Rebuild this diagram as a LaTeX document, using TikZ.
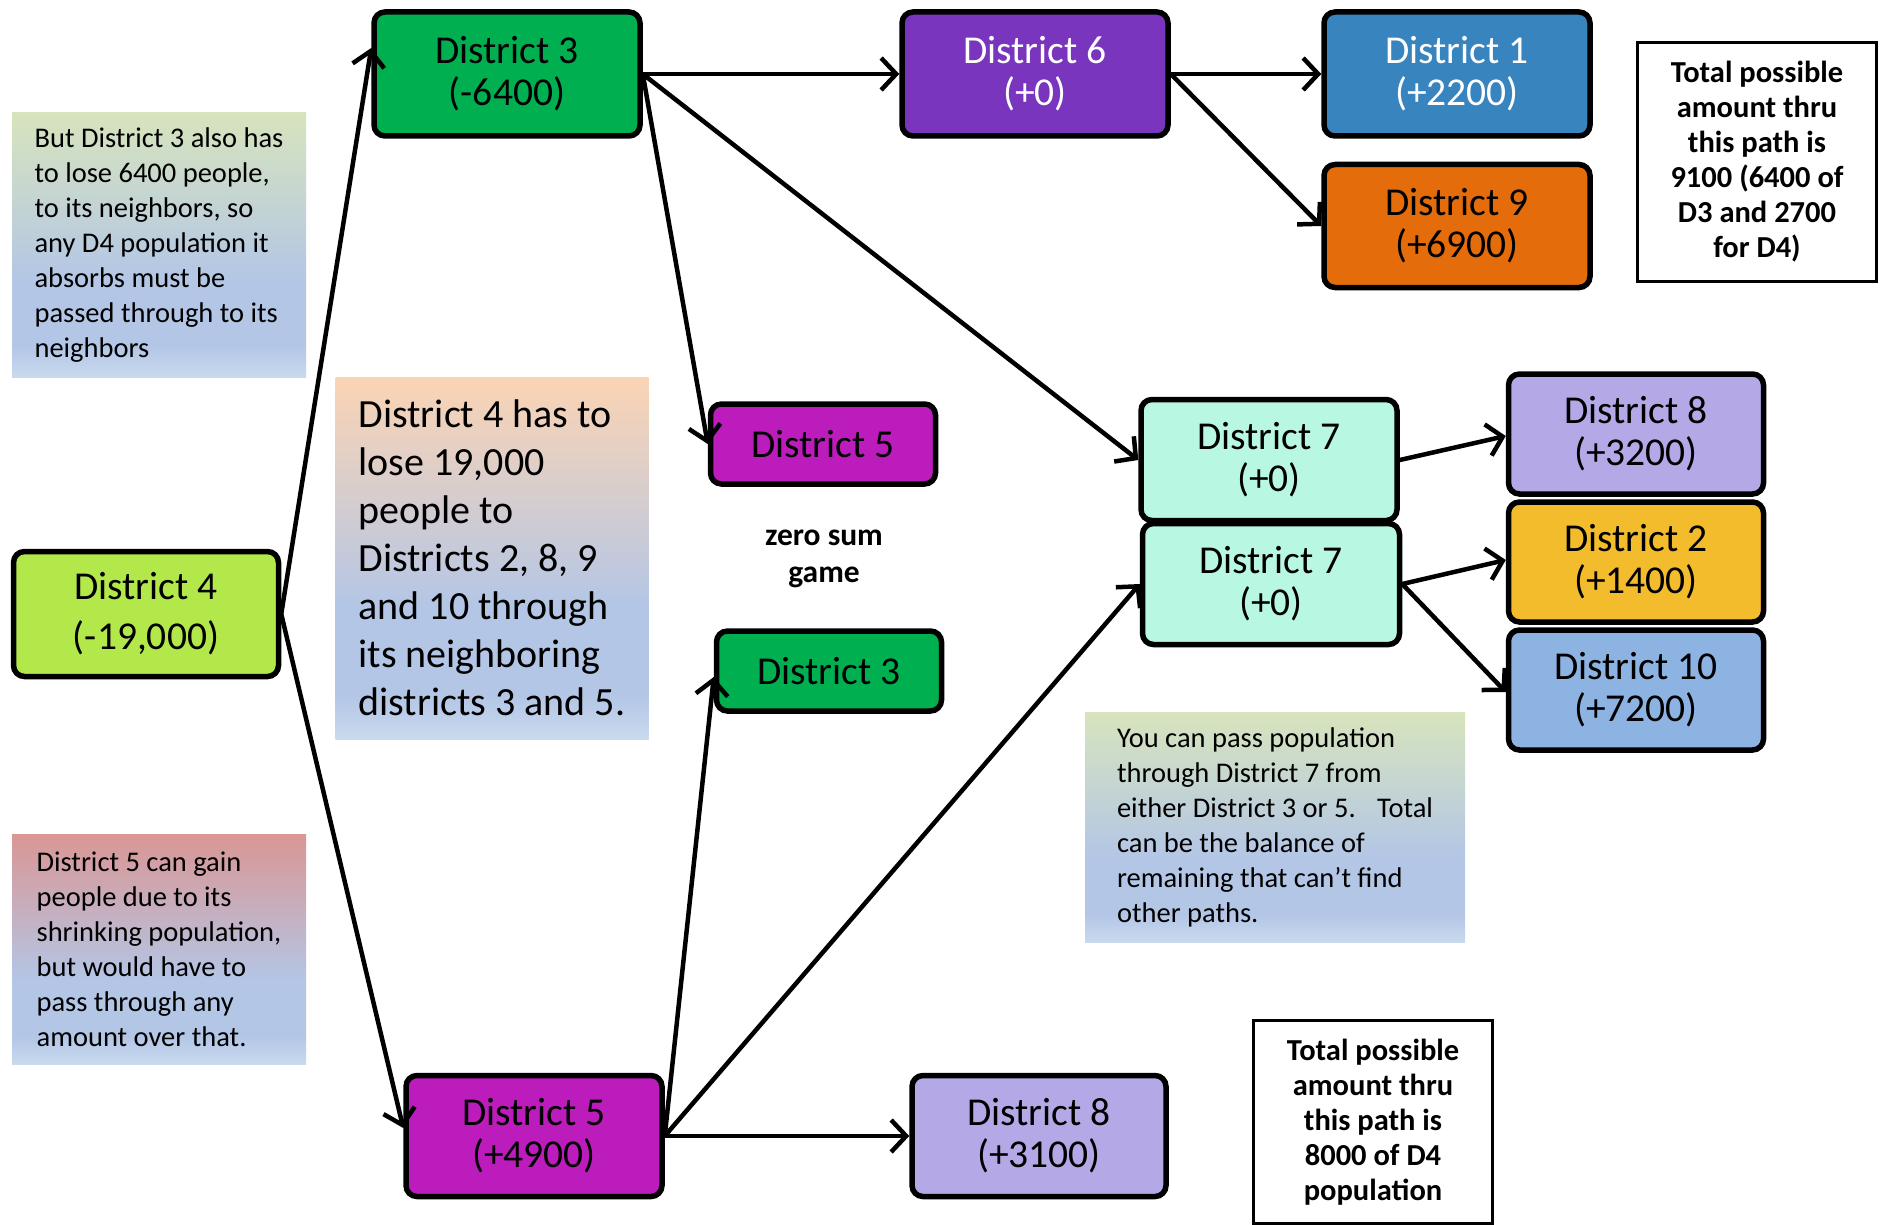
\documentclass[tikz,border=0pt]{standalone}
\usepackage{fontspec}
\setmainfont{Carlito}
\usetikzlibrary{arrows.meta}
\definecolor{cgreen}{HTML}{00B050}
\definecolor{cpurple}{HTML}{7A35BE}
\definecolor{cblue}{HTML}{3784BF}
\definecolor{corange}{HTML}{E46C0A}
\definecolor{cmagenta}{HTML}{BB1CBB}
\definecolor{clime}{HTML}{B3E84B}
\definecolor{cmint}{HTML}{B8F8E2}
\definecolor{clav}{HTML}{B4A9E6}
\definecolor{cyellow}{HTML}{F3BC2C}
\definecolor{clblue}{HTML}{8DB3E2}
\definecolor{gtop}{HTML}{D7E4BD}
\definecolor{ptop}{HTML}{FBD4B4}
\definecolor{rtop}{HTML}{DA9694}
\definecolor{lbB}{HTML}{B3C6E6}
\definecolor{lbA}{HTML}{C9D9EE}
\pgfdeclareverticalshading{shgreen}{100bp}{color(0bp)=(lbA); color(25bp)=(lbA); color(31bp)=(lbB); color(43bp)=(lbB); color(75bp)=(gtop); color(100bp)=(gtop)}
\pgfdeclareverticalshading{shpeach}{100bp}{color(0bp)=(lbA); color(25bp)=(lbA); color(31bp)=(lbB); color(43bp)=(lbB); color(75bp)=(ptop); color(100bp)=(ptop)}
\pgfdeclareverticalshading{shrose}{100bp}{color(0bp)=(lbA); color(25bp)=(lbA); color(31bp)=(lbB); color(43bp)=(lbB); color(75bp)=(rtop); color(100bp)=(rtop)}
\begin{document}
\begin{tikzpicture}[x=1pt,y=-1pt,
  dbox/.style={draw=black, line width=5.5pt, rounded corners=11pt, align=center,
    font=\fontsize{39.5}{42}\selectfont, inner sep=0pt},
  tbox/.style={align=left, font=\fontsize{28.5}{35}\selectfont, inner sep=0pt},
  totbox/.style={draw=black, line width=3pt, align=center, fill=white,
    font=\bfseries\fontsize{30.5}{35}\selectfont, inner sep=0pt},
  arr/.style={line width=4.5pt, -{Straight Barb[length=15pt,width=32pt]}}]
\useasboundingbox[fill=white] (0,0) rectangle (1881,1225);

% explanatory text boxes
\node[tbox, shading=shgreen, minimum width=294pt, minimum height=265pt] (t3) at (159,245)
  {But District 3 also has\\to lose 6400 people,\\to its neighbors, so\\any D4 population it\\absorbs must be\\passed through to its\\neighbors};
\node[tbox, shading=shpeach, minimum width=313pt, minimum height=362pt, font=\fontsize{40}{48}\selectfont] (t4) at (492,558)
  {District 4 has to\\lose 19,000\\people to\\Districts 2, 8, 9\\and 10 through\\its neighboring\\districts 3 and 5.};
\node[tbox, shading=shrose, minimum width=294pt, minimum height=230pt] (t5) at (159,949)
  {District 5 can gain\\people due to its\\shrinking population,\\but would have to\\pass through any\\amount over that.};
\node[tbox, shading=shgreen, minimum width=380pt, minimum height=230pt] (t7) at (1275,827)
  {You can pass population\\through District 7 from\\either District 3 or 5. \ \ Total\\can be the balance of\\remaining that can’t find\\other paths.};
\node[totbox, minimum width=239pt, minimum height=239pt] (tot1) at (1757,162)
  {Total possible\\amount thru\\this path is\\9100 (6400 of\\D3 and 2700\\for D4)};
\node[totbox, minimum width=239pt, minimum height=203pt] (tot2) at (1373,1122)
  {Total possible\\amount thru\\this path is\\8000 of D4\\population};
\node[align=center, inner sep=0pt, font=\bfseries\fontsize{31.5}{37}\selectfont] (zs) at (824,559) {zero sum\\game};

% district nodes
\node[dbox, fill=clime, minimum width=265pt, minimum height=125pt, font=\fontsize{39.5}{50}\selectfont] (d4) at (146,614) {District 4\\(-19,000)};
\node[dbox, fill=cgreen, minimum width=266pt, minimum height=124pt] (d3) at (507,74) {District 3\\(-6400)};
\node[dbox, fill=cpurple, text=white, minimum width=266pt, minimum height=124pt] (d6) at (1035,74) {District 6\\(+0)};
\node[dbox, fill=cblue, text=white, minimum width=266pt, minimum height=124pt] (d1) at (1457,74) {District 1\\(+2200)};
\node[dbox, fill=corange, minimum width=266pt, minimum height=123pt] (d9) at (1457,226) {District 9\\(+6900)};
\node[dbox, fill=cmagenta, minimum width=225pt, minimum height=80pt] (d5m) at (823,444) {District 5};
\node[dbox, fill=cgreen, minimum width=225pt, minimum height=80pt] (d3m) at (829,671) {District 3};
\node[dbox, fill=cmint, minimum width=256pt, minimum height=121pt] (d7a) at (1269,460) {District 7\\(+0)};
\node[dbox, fill=cmint, minimum width=257pt, minimum height=121pt] (d7b) at (1271,584) {District 7\\(+0)};
\node[dbox, fill=clav, minimum width=255pt, minimum height=120pt] (d8) at (1636,434) {District 8\\(+3200)};
\node[dbox, fill=cyellow, minimum width=255pt, minimum height=120pt] (d2) at (1636,562) {District 2\\(+1400)};
\node[dbox, fill=clblue, minimum width=255pt, minimum height=120pt] (d10) at (1636,690) {District 10\\(+7200)};
\node[dbox, fill=cmagenta, minimum width=256pt, minimum height=121pt] (d5b) at (534,1136) {District 5\\(+4900)};
\node[dbox, fill=clav, minimum width=254pt, minimum height=121pt] (d8b) at (1039,1136) {District 8\\(+3100)};

% connectors
\draw[arr] (d4.east) -- ([yshift=26pt]d3.west);
\draw[arr] (d4.east) -- ([yshift=8pt]d5b.west);
\draw[arr] (d3.east) -- (d6.west);
\draw[arr] (d3.east) -- (d5m.west);
\draw[arr] (d3.east) -- (d7a.west);
\draw[arr] (d6.east) -- (d1.west);
\draw[arr] (d6.east) -- (d9.west);
\draw[arr] (d5b.east) -- ([yshift=-6pt]d3m.west);
\draw[arr] (d5b.east) -- (d7b.west);
\draw[arr] (d5b.east) -- (d8b.west);
\draw[arr] (d7a.east) -- ([yshift=-2pt]d8.west);
\draw[arr] (d7b.east) -- ([yshift=2pt]d2.west);
\draw[arr] (d7b.east) -- ([yshift=-2pt]d10.west);
\end{tikzpicture}
\end{document}
